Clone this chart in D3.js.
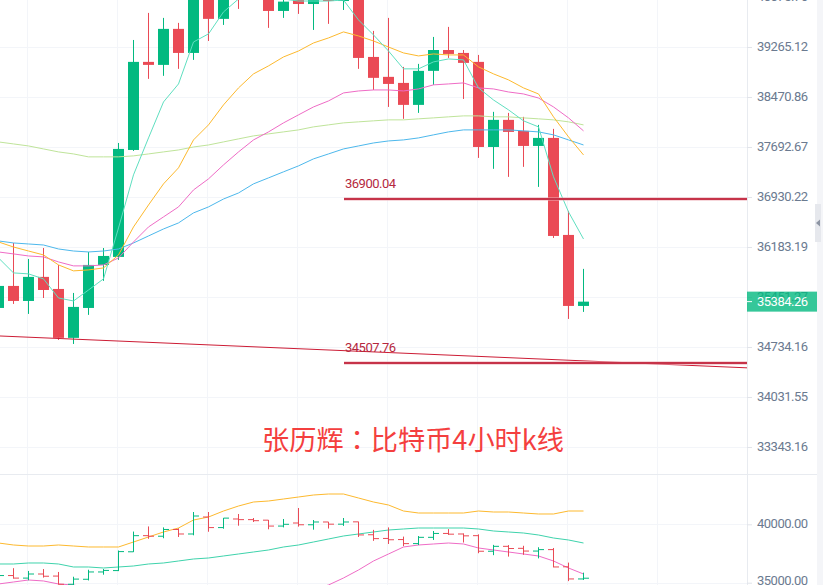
<!DOCTYPE html>
<html>
<head>
<meta charset="utf-8">
<script src="https://cdnjs.cloudflare.com/ajax/libs/d3/7.8.5/d3.min.js"></script>
<style>
  html, body { margin: 0; padding: 0; background: #fff; overflow: hidden; }
  text { font-family: Roboto, sans-serif; }
</style>
</head>
<body>
<div id="chart"></div>
<script>
var svgWidth = 827;
var svgHeight = 585;

// four hour candles, oldest first
var opens = [35293, 35612, 35394, 35744, 35568, 34864, 35293, 35919, 36037, 37647,
  39027, 38979, 39557, 39170, 40625, 39719, 40454, 40400, 40354, 39848,
  40111, 39961, 40197, 40010, 40210, 39106, 38789, 38693, 38347, 38884,
  39217, 39170, 39027, 37693, 38113, 37942, 37709, 37833, 36362, 35322];
var highs = [35846, 36243, 36007, 36168, 35919, 35510, 36110, 36168, 37755, 39378,
  39816, 39735, 39654, 41053, 41053, 40539, 40882, 40539, 40368, 40454,
  41396, 40368, 40200, 40539, 40220, 39524, 39735, 38947, 38995, 39427,
  39589, 39217, 39138, 38238, 38222, 38160, 38035, 37973, 36721, 35861];
var lows = [35236, 35351, 35207, 35437, 34835, 34777, 35193, 35686, 35993, 37632,
  38757, 38805, 38916, 39059, 39362, 39621, 39881, 40197, 39573, 39735,
  39800, 39540, 39638, 39864, 38916, 38582, 38315, 38129, 38222, 38662,
  39090, 38440, 37525, 37358, 37235, 37388, 37083, 36317, 35135, 35236];
var closes = [35612, 35394, 35744, 35553, 34864, 35308, 35919, 36051, 37663, 39027,
  38979, 39557, 39170, 40710, 39719, 40530, 40400, 40310, 39848, 40000,
  39961, 40197, 40010, 40197, 39090, 38773, 38677, 38347, 38884, 39217,
  39154, 39011, 37693, 38113, 37926, 37709, 37833, 36347, 35322, 35384];

// moving averages on the main panel
var maTeal = [36022, 35802, 35788, 35715, 35437, 35394, 35553, 35715, 36466, 37266,
  37833, 38393, 38677, 39346, 39476, 39832, 40043, 40107, 40091, 40043,
  40010, 40010, 40010, 40026, 39702, 39459, 39201, 38916, 38916, 39027,
  39074, 39059, 38614, 38424, 38269, 38098, 38004, 37235, 36706, 36302];
var maYellow = [36258, 36183, 36124, 36066, 35919, 35832, 35846, 35875, 36066, 36481,
  36810, 37129, 37373, 37802, 38035, 38347, 38614, 38836, 38963, 39106,
  39201, 39330, 39411, 39508, 39443, 39362, 39265, 39170, 39122, 39154,
  39138, 39138, 38947, 38836, 38741, 38614, 38519, 38160, 37849, 37571];
var maPink = [36110, 36081, 36051, 36037, 35963, 35905, 35905, 35919, 36022, 36258,
  36481, 36631, 36781, 37037, 37205, 37418, 37617, 37802, 37926, 38066,
  38191, 38315, 38409, 38535, 38566, 38582, 38582, 38566, 38598, 38662,
  38677, 38693, 38614, 38598, 38550, 38519, 38455, 38315, 38144, 37942];
var maBlue = [36273, 36243, 36228, 36213, 36154, 36124, 36110, 36124, 36154, 36243,
  36347, 36451, 36541, 36691, 36781, 36900, 36991, 37129, 37220, 37312,
  37403, 37510, 37586, 37663, 37709, 37755, 37786, 37802, 37833, 37880,
  37926, 37957, 37957, 37957, 37957, 37942, 37926, 37880, 37802, 37724];
var maGreen = [37771, 37740, 37709, 37663, 37617, 37586, 37541, 37541, 37541, 37556,
  37586, 37617, 37647, 37693, 37724, 37771, 37818, 37864, 37895, 37926,
  37957, 38004, 38035, 38066, 38082, 38098, 38113, 38113, 38129, 38144,
  38160, 38175, 38175, 38160, 38160, 38144, 38129, 38113, 38082, 38035];

// bands on the lower panel
var bandUpper = [38399, 38228, 38142, 38142, 38228, 38142, 38057, 38057, 38057, 38485,
  38913, 39341, 39683, 40368, 40625, 41138, 41566, 41909, 41994, 42166,
  42337, 42508, 42594, 42594, 42251, 41909, 41652, 41138, 40967, 40967,
  40967, 40967, 41138, 41053, 41053, 40967, 40882, 40882, 41138, 41138];
var bandMiddle = [36602, 36602, 36687, 36687, 36602, 36345, 36345, 36259, 36345, 36431,
  36602, 36687, 36859, 37030, 37115, 37287, 37458, 37629, 37800, 38057,
  38228, 38485, 38742, 38999, 39170, 39341, 39512, 39598, 39683, 39683,
  39683, 39683, 39598, 39427, 39341, 39255, 39084, 38827, 38656, 38399];
var bandLower = [34890, 35061, 35232, 35147, 34890, 34804, 34547, 34547, 34633, 34376,
  34291, 34034, 34034, 33691, 33606, 33434, 33349, 33349, 33606, 33948,
  34120, 34462, 34804, 35403, 36088, 36859, 37458, 38057, 38228, 38314,
  38399, 38314, 37971, 37800, 37629, 37458, 37287, 36859, 36259, 35746];

var priceTicks = [33343.16, 34031.55, 34734.16, 35451.27, 36183.19, 36930.22, 37692.67, 38470.86, 39265.12, 40075.76];
var lowerTicks = [35000, 40000];
var gridIndexes = [2, 8, 14, 20, 26, 32, 38, 44];

var levelHigh = 36900.04;
var levelLow = 34507.76;
var trendIndex = [0, 50];
var trendPrice = [34892, 34439];
var lastPrice = 35384.26;
var titleParts = ["张历辉", "：", "比特币4小时k线"];

var upColor = "#02b980";
var downColor = "#ea4a55";

var svg = d3.select("#chart")
  .append("svg")
  .attr("width", svgWidth)
  .attr("height", svgHeight)
  .style("display", "block");

var axisX = 747;
var panelBottom = 474;

var x = d3.scaleLinear().domain([0, 39]).range([-2, 583]);
var y = d3.scaleLog().domain([33343.16, 39265.12]).range([447, 47]);
var yLower = d3.scaleLinear().domain([35000, 40000]).range([582.7, 524.3]);

svg.append("clipPath").attr("id", "mainClip")
  .append("rect").attr("width", axisX).attr("height", panelBottom);
svg.append("clipPath").attr("id", "lowerClip")
  .append("rect").attr("y", panelBottom + 1).attr("width", axisX).attr("height", svgHeight - panelBottom);

// scrollbar strip on the right
svg.append("rect").attr("x", 817).attr("y", 0).attr("width", 6).attr("height", svgHeight).attr("fill", "#f4f5f8");
svg.append("rect").attr("x", 815).attr("y", 204).attr("width", 6).attr("height", 38).attr("fill", "#e6e8ed");
svg.append("path").attr("d", "M816 223l4 -3.5v7z").attr("fill", "#8d95a3");

// grid
var grid = svg.append("g").attr("stroke", "#f3f5f9").attr("stroke-width", 1);
gridIndexes.forEach(function(i) {
  grid.append("line").attr("x1", Math.round(x(i)) - 0.5).attr("x2", Math.round(x(i)) - 0.5).attr("y1", 0).attr("y2", svgHeight);
});
priceTicks.forEach(function(t) {
  grid.append("line").attr("x1", 0).attr("x2", axisX).attr("y1", Math.round(y(t)) + 0.5).attr("y2", Math.round(y(t)) + 0.5);
});
lowerTicks.forEach(function(t) {
  grid.append("line").attr("x1", 0).attr("x2", axisX).attr("y1", Math.round(yLower(t)) + 0.5).attr("y2", Math.round(yLower(t)) + 0.5);
});

// panel split and axis line
svg.append("line").attr("x1", 0).attr("x2", 817).attr("y1", panelBottom + 0.5).attr("y2", panelBottom + 0.5).attr("stroke", "#e8ebf0");
svg.append("line").attr("x1", axisX + 0.5).attr("x2", axisX + 0.5).attr("y1", 0).attr("y2", svgHeight).attr("stroke", "#e8ebf0");

// axes
var rightAxis = d3.axisRight(y).tickValues(priceTicks).tickFormat(d3.format(".2f")).tickSize(5).tickPadding(5);
var mainAxis = svg.append("g").attr("transform", "translate(" + axisX + ",0)").call(rightAxis);
var lowerAxis = d3.axisRight(yLower).tickValues(lowerTicks).tickFormat(d3.format(".2f")).tickSize(5).tickPadding(5);
var subAxis = svg.append("g").attr("transform", "translate(" + axisX + ",0)").call(lowerAxis);
[mainAxis, subAxis].forEach(function(a) {
  a.select(".domain").remove();
  a.selectAll("line").attr("stroke", "#e1e4ea");
  a.selectAll("text").attr("fill", "#6b7a90")
    .attr("dy", "0.27em")
    .style("font-size", "13px")
    .style("letter-spacing", "-0.5px")
    .style("font-family", "Roboto, sans-serif");
});
// the bottom label rides a little above its tick
subAxis.selectAll("text").filter(function(d) { return d === 35000; }).attr("dy", "0.12em");

var main = svg.append("g").attr("clip-path", "url(#mainClip)");
var lower = svg.append("g").attr("clip-path", "url(#lowerClip)");

// candles
var candles = d3.range(opens.length);
function color(i) { return closes[i] >= opens[i] ? upColor : downColor; }

main.selectAll(".wick").data(candles).enter().append("line")
  .attr("x1", function(i) { return x(i) + 0.5; })
  .attr("x2", function(i) { return x(i) + 0.5; })
  .attr("y1", function(i) { return y(highs[i]); })
  .attr("y2", function(i) { return y(lows[i]); })
  .attr("stroke", color);

main.selectAll(".body").data(candles).enter().append("rect")
  .attr("x", function(i) { return x(i) - 5; })
  .attr("width", 11)
  .attr("y", function(i) { return y(Math.max(opens[i], closes[i])); })
  .attr("height", function(i) { return Math.max(1, Math.abs(y(opens[i]) - y(closes[i]))); })
  .attr("fill", color);

// moving average lines
var line = d3.line().x(function(d, i) { return x(i) + 0.5; }).y(function(d) { return y(d); });
[[maGreen, "#bfe49a"], [maBlue, "#4db8ec"], [maPink, "#ef6cc6"], [maYellow, "#fdb92e"], [maTeal, "#5fdfc0"]].forEach(function(s) {
  main.append("path").attr("d", line(s[0])).attr("fill", "none").attr("stroke", s[1]).attr("stroke-width", 1);
});

// drawn trend line and levels
main.append("line")
  .attr("x1", x(trendIndex[0])).attr("x2", x(trendIndex[1]))
  .attr("y1", y(trendPrice[0])).attr("y2", y(trendPrice[1]))
  .attr("stroke", "#cc1c35").attr("stroke-width", 1);

[levelHigh, levelLow].forEach(function(p) {
  main.append("line")
    .attr("x1", 344).attr("x2", axisX)
    .attr("y1", y(p)).attr("y2", y(p))
    .attr("stroke", "#eeb0b8").attr("stroke-width", 3);
  main.append("line")
    .attr("x1", 344).attr("x2", axisX)
    .attr("y1", y(p)).attr("y2", y(p))
    .attr("stroke", "#b80a24").attr("stroke-width", 1.5);
  main.append("text")
    .attr("x", 345).attr("y", y(p) - 11)
    .attr("fill", "#b5283e")
    .style("font-size", "13px")
    .style("letter-spacing", "-0.5px")
    .text(d3.format(".2f")(p));
});

// lower panel
var lowerLine = d3.line().x(function(d, i) { return x(i) + 0.5; }).y(function(d) { return yLower(d); });
[[bandUpper, "#fdb92e"], [bandMiddle, "#3fd3ac"], [bandLower, "#ef6cc6"]].forEach(function(s) {
  lower.append("path").attr("d", lowerLine(s[0])).attr("fill", "none").attr("stroke", s[1]).attr("stroke-width", 1);
});

lower.selectAll(".bar").data(candles).enter().append("path")
  .attr("d", function(i) {
    var cx = x(i) + 0.5;
    return "M" + cx + " " + yLower(highs[i]) + "V" + yLower(lows[i]) +
      "M" + (cx - 5.5) + " " + yLower(opens[i]) + "H" + cx +
      "M" + cx + " " + yLower(closes[i]) + "H" + (cx + 5.5);
  })
  .attr("fill", "none")
  .attr("stroke", color);

// last price tag, see-through so the tick label behind it shows
svg.append("rect").attr("x", axisX).attr("y", y(lastPrice) - 10).attr("width", 70).attr("height", 20)
  .attr("fill", upColor).attr("fill-opacity", 0.8);
svg.append("line").attr("x1", axisX).attr("x2", axisX + 5).attr("y1", y(lastPrice)).attr("y2", y(lastPrice)).attr("stroke", "#fff");
svg.append("text").attr("x", axisX + 10).attr("y", y(lastPrice)).attr("dy", "0.32em")
  .attr("fill", "#fff")
  .style("font-size", "13px")
  .style("letter-spacing", "-0.5px")
  .text(d3.format(".2f")(lastPrice));

// overlaid caption, the colon sits mid cell in the TC face
var caption = svg.append("text").attr("x", 262).attr("y", 449.5)
  .attr("fill", "#f43f3f")
  .style("font-family", "'Noto Sans CJK SC', sans-serif")
  .style("font-size", "27.2px");
titleParts.forEach(function(part, i) {
  caption.append("tspan")
    .style("font-family", i === 1 ? "'Noto Sans CJK TC', sans-serif" : "'Noto Sans CJK SC', sans-serif")
    .text(part);
});
</script>
</body>
</html>
